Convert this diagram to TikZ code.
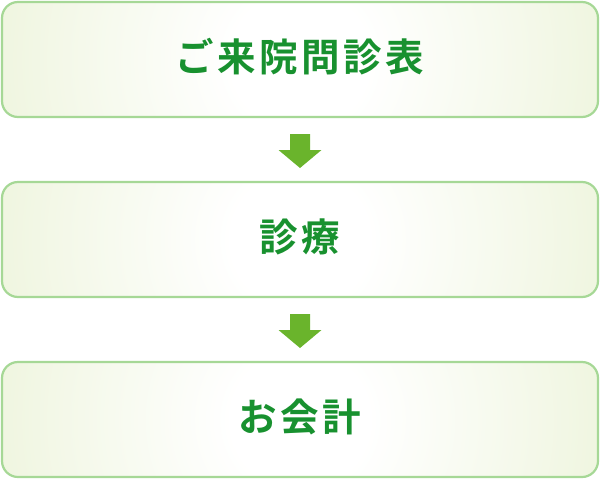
\documentclass[tikz,border=0pt]{standalone}
\usepackage{fontspec}
\usetikzlibrary{calc}
\newfontfamily\jpfont[LetterSpace=9]{Noto Sans CJK JP Bold}
\definecolor{boxline}{HTML}{A6D896}
\definecolor{boxfill}{HTML}{EDF4DB}
\definecolor{txtgreen}{HTML}{18912F}
\definecolor{arrowgreen}{HTML}{6AB42C}
\pgfdeclareradialshading{boxshade}{\pgfpoint{0bp}{0bp}}{%
  color(0bp)=(white); color(5bp)=(white); color(25bp)=(boxfill); color(50bp)=(boxfill)}
\begin{document}
\begin{tikzpicture}[x=1pt,y=-1pt,
  stepbox/.style={draw=boxline, line width=2.2pt, rounded corners=16pt,
    fill=boxfill, path picture={\shade[shading=boxshade]
      (path picture bounding box.center) circle (340pt);},
    minimum width=596pt, minimum height=115pt, text height=30pt, text depth=5.8pt,
    inner sep=0pt, font=\jpfont\fontsize{38.5pt}{42pt}\selectfont, text=txtgreen},
  downarrow/.style={fill=arrowgreen, draw=none}]
\useasboundingbox (0,0) rectangle (600,480);
\node[stepbox] (b1) at (300,59.5) {ご来院問診表};
\node[stepbox] (b2) at (300,239.5) {診療};
\node[stepbox] (b3) at (300,419.5) {お会計};
\coordinate (a1) at ($(b1.south)!0.5!(b2.north)+(0,1.5)$);
\coordinate (a2) at ($(b2.south)!0.5!(b3.north)+(0,1.5)$);
\foreach \a in {a1,a2}
  \fill[downarrow, shift={(\a)}] (-10,-17) -- (10,-17) -- (10,-1) -- (21.5,-1)
    -- (0,17) -- (-21.5,-1) -- (-10,-1) -- cycle;
\end{tikzpicture}
\end{document}
